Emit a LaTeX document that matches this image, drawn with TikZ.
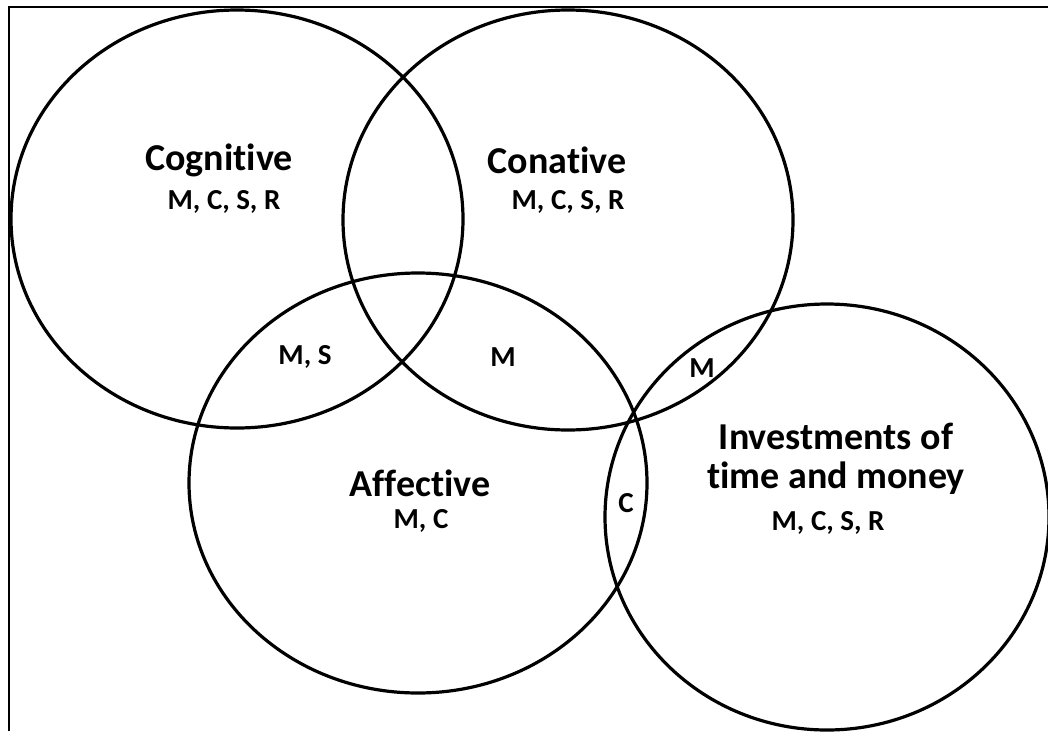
\documentclass[tikz,border=0pt]{standalone}
\usepackage{fontspec}
\setmainfont{Carlito}[Ligatures=NoCommon]
\begin{document}
\begin{tikzpicture}[x=1pt,y=-1pt,
  ring/.style={line width=3.2pt},
  frameline/.style={line width=2.4pt},
  title/.style={font=\bfseries\fontsize{38}{43}\selectfont, align=center, inner sep=0pt},
  tag/.style={font=\bfseries\fontsize{29}{33}\selectfont, inner sep=0pt}]
\useasboundingbox (0,0) rectangle (1048,731);
% open frame: left and top edges
\draw[frameline] (9,731) -- (9,7) -- (1048,7);
% the four sets
\draw[ring] (237,219) ellipse [x radius=226, y radius=209];
\draw[ring] (568,220) ellipse [x radius=225, y radius=210];
\draw[ring] (418,483) ellipse [x radius=229, y radius=210];
\draw[ring] (827,517) ellipse [x radius=222, y radius=213];
% set names and their codes
\node[title] (cog) at (219,160) {Cognitive};
\node[tag] (cogt) at (224,202) {M, C, S, R};
\node[title] (con) at (557,160) {Conative};
\node[tag] (cont) at (568,202) {M, C, S, R};
\node[title] (aff) at (420,483) {Affective};
\node[tag] (afft) at (421,521) {M, C};
\node[title] (inv) at (836,459) {Investments of\\[-4pt]time and money};
\node[tag] (invt) at (828,523) {M, C, S, R};
% overlap codes
\node[tag] (ms) at (305,357) {M, S};
\node[tag] (m1) at (503,357) {M};
\node[tag] (m2) at (702,368) {M};
\node[tag] (c1) at (626,503) {C};
\end{tikzpicture}
\end{document}
